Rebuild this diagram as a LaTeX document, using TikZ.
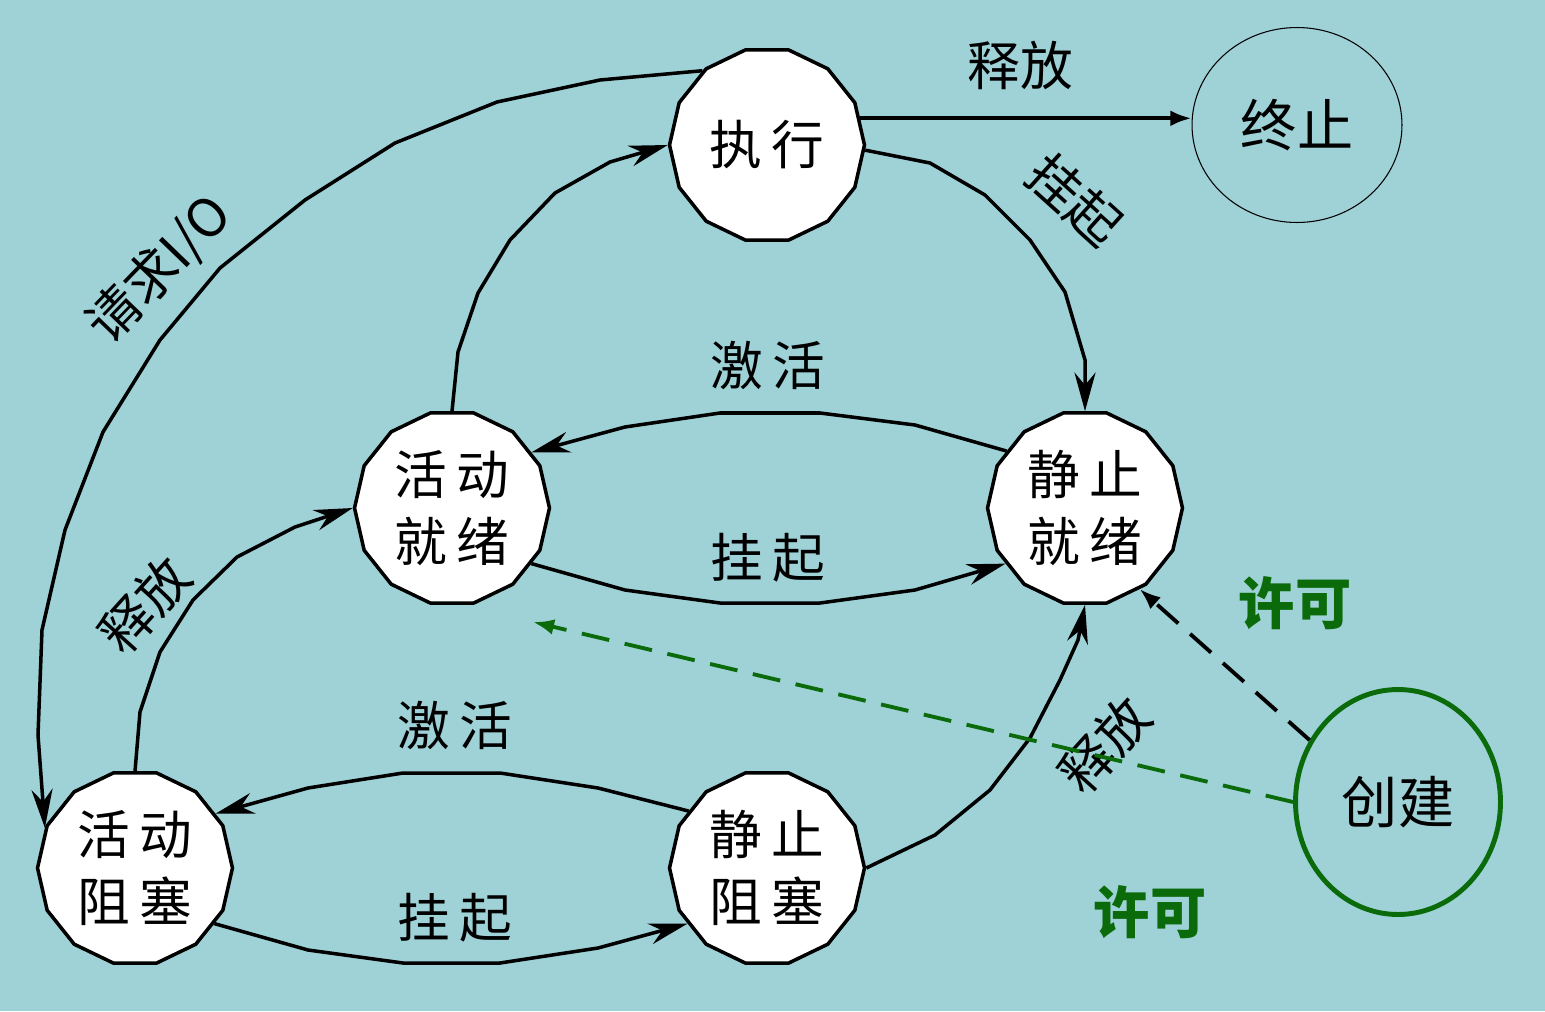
\documentclass[tikz,border=0pt]{standalone}
\usepackage{fontspec}
\setmainfont{Noto Sans CJK SC}
\usetikzlibrary{shapes.geometric,arrows.meta}
\definecolor{bg}{HTML}{9ED2D7}
\definecolor{okgreen}{HTML}{0B6B0B}
\tikzset{
  state/.style={regular polygon, regular polygon sides=14, draw, fill=white, line width=2pt,
    minimum size=3.9cm, inner sep=0pt, align=center, font=\fontsize{30}{38}\selectfont},
  flow/.style={line width=2pt, -{Stealth[length=22pt,width=12pt]}},
  lbl/.style={font=\fontsize{30}{36}\selectfont},
  ok/.style={font=\fontsize{32}{36}\selectfont\bfseries, text=okgreen}
}
\begin{document}
\begin{tikzpicture}[x=0.02cm,y=-0.02cm]
\fill[bg] (0,0) rectangle (1545,1011);
\useasboundingbox (0,0) rectangle (1545,1011);

\node[state] (exec) at (767,145) {执\,行};
\node[ellipse, draw, line width=0.6pt, minimum width=4.2cm, minimum height=3.9cm, font=\fontsize{32}{36}\selectfont] (term) at (1297,125) {终止};
\node[state] (ar) at (452,508) {活\,动\\就\,绪};
\node[state] (sr) at (1085,508) {静\,止\\就\,绪};
\node[state] (ab) at (135,868) {活\,动\\阻\,塞};
\node[state] (sb) at (767,868) {静\,止\\阻\,塞};
\node[ellipse, draw=okgreen, line width=2.8pt, minimum width=4.1cm, minimum height=4.5cm, font=\fontsize{32}{36}\selectfont] (make) at (1398,802) {创建};
\coordinate (arend) at (533,622);

\draw[line width=2.2pt, -{Latex[length=12pt]}] (exec.16) -- (exec.16 -| term.west);
\node[lbl] at (1020,65) {释放};

\draw[flow] (exec.-3) -- (930,163) -- (985,195) -- (1030,240) -- (1065,292) -- (1085,360) -- (sr.north);
\node[lbl, rotate=-42] at (1075,200) {挂起};

\draw[flow] (exec.131) -- (600,80) -- (497,102) -- (395,143) -- (305,200) -- (220,268) -- (160,340)
  -- (103,432) -- (65,530) -- (42,630) -- (38,735) -- (ab.156);
\node[lbl, rotate=46] at (160,270) {请求I/O};

\draw[flow] (ar.north) -- (458,352) -- (478,293) -- (510,240) -- (555,193) -- (610,162) -- (exec.180);

\draw[flow] (sr.144) -- (915,425) -- (820,413) -- (720,413) -- (625,427) -- (ar.35);
\node[lbl] at (768,365) {激\,活};
\draw[flow] (ar.-35) -- (625,590) -- (720,603) -- (820,603) -- (915,590) -- (sr.215);
\node[lbl] at (768,558) {挂\,起};

\draw[flow] (ab.north) -- (140,712) -- (160,652) -- (193,600) -- (237,557) -- (295,527) -- (ar.180);
\node[lbl, rotate=48] at (145,605) {释放};

\draw[flow] (sb.144) -- (598,788) -- (500,773) -- (403,773) -- (308,788) -- (ab.34);
\node[lbl] at (455,725) {激\,活};
\draw[flow] (ab.-35) -- (308,950) -- (403,963) -- (500,963) -- (598,948) -- (sb.215);
\node[lbl] at (455,918) {挂\,起};

\draw[flow] (sb.0) -- (935,835) -- (990,790) -- (1030,738) -- (1060,680) -- (1078,640) -- (sr.south);
\node[lbl, rotate=48] at (1105,745) {释放};

\draw[line width=2.2pt, dash pattern=on 16pt off 9pt, -{Latex[length=12pt]}] (make.145) -- (sr.-56);
\node[ok] at (1295,603) {许可};
\draw[okgreen, line width=2.2pt, dash pattern=on 16pt off 9pt, -{Latex[length=12pt]}] (make.west) -- (arend);
\node[ok] at (1150,912) {许可};
\end{tikzpicture}
\end{document}
